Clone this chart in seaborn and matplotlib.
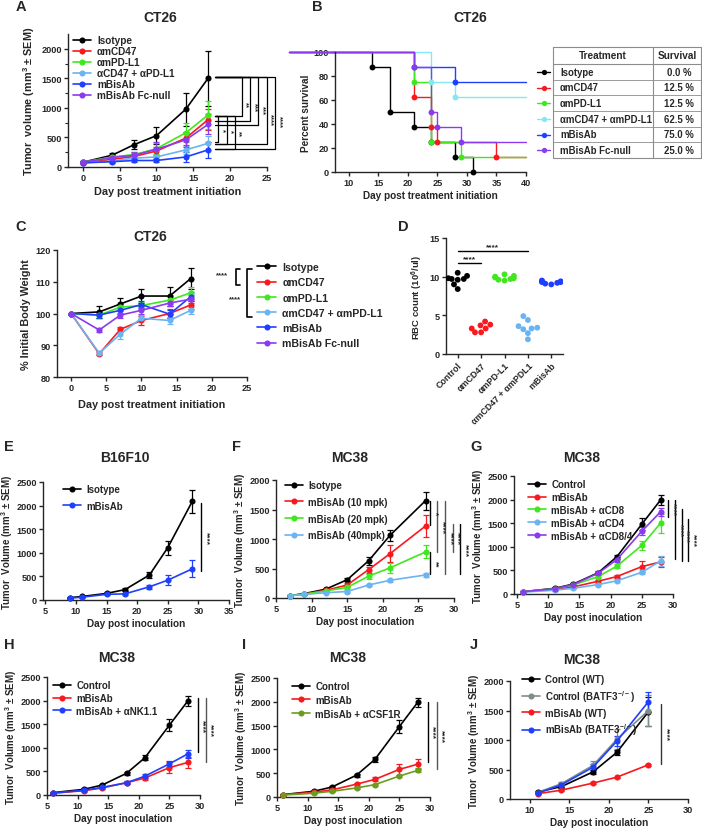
# CT26 / B16F10 / MC38 tumor growth figure (panels A-J)

import numpy as np
import pandas as pd
import matplotlib.pyplot as plt
import seaborn as sns
from matplotlib.lines import Line2D

sns.set_style('ticks')
plt.rcParams['font.family'] = ['Liberation Sans', 'DejaVu Sans']
plt.rcParams['font.weight'] = 'bold'
plt.rcParams['axes.labelweight'] = 'bold'
plt.rcParams['mathtext.default'] = 'regular'
plt.rcParams['legend.numpoints'] = 1

BLACK = '#000000'
RED = '#f7191e'
GREEN = '#3fe81c'
LBLUE = '#6ab4f2'
BLUE = '#1f3fff'
PURPLE = '#8a3bef'
CYAN = '#86e6f2'
GRAY = '#7f8c8c'
OLIVE = '#6b9c1f'

# ---- A: CT26 tumor volume ----
days_a = [0, 4, 7, 10, 14, 17]
a_names = ['Isotype', 'αmCD47', 'αmPD-L1', 'αCD47 + αPD-L1', 'mBisAb', 'mBisAb Fc-null']
a_iso = [80, 200, 380, 530, 980, 1500]
a_iso_err = [20, 30, 70, 140, 280, 460]
a_cd47 = [70, 130, 180, 270, 490, 800]
a_cd47_err = [15, 30, 50, 70, 110, 180]
a_pdl1 = [80, 170, 210, 310, 580, 880]
a_pdl1_err = [15, 30, 50, 90, 160, 240]
a_combo = [70, 100, 150, 170, 290, 400]
a_combo_err = [10, 20, 30, 40, 70, 120]
a_bis = [70, 90, 110, 110, 170, 290]
a_bis_err = [10, 20, 30, 30, 80, 140]
a_fcnull = [80, 160, 200, 300, 460, 720]
a_fcnull_err = [15, 30, 50, 130, 120, 170]

# ---- B: CT26 survival ----
b_names = ['Isotype', 'αmCD47', 'αmPD-L1', 'αmCD47 + αmPD-L1', 'mBisAb', 'mBisAb Fc-null']
b_surv_pct = [0.0, 12.5, 12.5, 62.5, 75.0, 25.0]
b_iso_t = [0, 14, 17, 21, 24, 28, 31]
b_iso_s = [100, 87.5, 50, 37.5, 25, 12.5, 0]
b_cd47_t = [0, 21, 24, 25, 35, 40]
b_cd47_s = [100, 62.5, 37.5, 25, 12.5, 12.5]
b_pdl1_t = [0, 21, 24, 29, 40]
b_pdl1_s = [100, 75, 25, 12.5, 12.5]
b_combo_t = [0, 24, 28, 40]
b_combo_s = [100, 75, 62.5, 62.5]
b_bis_t = [0, 21, 28, 40]
b_bis_s = [100, 87.5, 75, 75]
b_fcnull_t = [0, 21, 24, 25, 29, 40]
b_fcnull_s = [100, 87.5, 50, 37.5, 25, 25]

# ---- C: body weight ----
c_names = ['Isotype', 'αmCD47', 'αmPD-L1', 'αmCD47 + αmPD-L1', 'mBisAb', 'mBisAb Fc-null']
c_iso = [100, 100.5, 103, 105.5, 105.5, 111]
c_iso_err = [0, 2, 2, 2.3, 3, 3.4]
c_cd47 = [100, 87.3, 95, 97.8, 100, 102.7]
c_cd47_err = [0, 0.5, 0.8, 1.5, 1.5, 1.2]
c_pdl1 = [100, 99.5, 102, 102.5, 104.2, 106.5]
c_pdl1_err = [0, 0.8, 1, 1.2, 1.2, 1.8]
c_combo = [100, 87.5, 93.5, 98.5, 97.8, 101]
c_combo_err = [0, 0.6, 1.5, 1, 1, 1]
c_bis = [100, 99.5, 101, 102.8, 99.8, 105.3]
c_bis_err = [0, 1, 1, 1.2, 1.2, 1.5]
c_fcnull = [100, 94.8, 99.5, 101, 103.3, 104.5]
c_fcnull_err = [0, 0.6, 0.8, 1, 1, 1.2]

# ---- D: RBC count ----
d_groups = ['Control', 'αmCD47', 'αmPD-L1', 'αmCD47 + αmPDL1', 'mBisAb']
d_control = [10.5, 10.1, 9.8, 9.7, 9.7, 9.6, 9.0, 8.4]
d_cd47 = [4.2, 3.8, 3.7, 3.3, 3.3, 2.8, 2.8]
d_pdl1 = [10.3, 10.1, 10.0, 9.9, 9.8, 9.7, 9.6, 9.5]
d_combo = [4.9, 4.4, 3.6, 3.4, 3.3, 3.2, 2.7, 1.9]
d_bis = [9.5, 9.4, 9.3, 9.3, 9.2, 9.1, 9.0, 9.4]

# ---- E: B16F10 ----
days_e = [9, 11, 15, 18, 22, 25, 29]
e_iso = [50, 75, 140, 220, 530, 1110, 2090]
e_iso_err = [10, 15, 20, 30, 70, 150, 250]
e_bis = [40, 60, 120, 130, 280, 420, 660]
e_bis_err = [10, 10, 20, 20, 40, 100, 180]

# ---- F: MC38 dose ----
days_f = [7, 9, 12, 15, 18, 21, 26]
f_iso = [40, 75, 150, 310, 630, 1060, 1650]
f_iso_err = [10, 15, 20, 30, 70, 100, 150]
f_10 = [40, 70, 130, 220, 480, 750, 1220]
f_10_err = [10, 10, 20, 30, 50, 140, 190]
f_20 = [40, 65, 120, 180, 370, 510, 780]
f_20_err = [10, 10, 20, 20, 40, 80, 110]
f_40 = [40, 60, 90, 110, 220, 300, 390]
f_40_err = [10, 10, 10, 20, 20, 30, 40]

# ---- G/H/I: MC38 depletion ----
days_g = [6, 11, 14, 18, 21, 25, 28]
g_ctrl = [50, 120, 210, 450, 790, 1480, 1990]
g_ctrl_err = [10, 20, 20, 30, 40, 130, 100]
g_bis = [50, 100, 150, 270, 370, 580, 680]
g_bis_err = [10, 20, 20, 30, 40, 120, 110]
g_cd8 = [50, 110, 190, 370, 590, 1030, 1500]
g_cd8_err = [10, 20, 20, 30, 40, 90, 200]
g_cd4 = [40, 80, 120, 200, 280, 460, 700]
g_cd4_err = [10, 10, 20, 20, 30, 40, 100]
g_cd84 = [50, 110, 200, 440, 730, 1330, 1740]
g_cd84_err = [10, 20, 20, 30, 50, 80, 80]

h_ctrl = [50, 120, 210, 460, 790, 1480, 1990]
h_ctrl_err = [10, 20, 20, 30, 50, 130, 100]
h_bis = [40, 90, 150, 260, 360, 580, 690]
h_bis_err = [10, 20, 20, 30, 40, 110, 110]
h_nk = [40, 100, 160, 260, 400, 660, 870]
h_nk_err = [10, 20, 20, 30, 40, 60, 80]

i_ctrl = [50, 120, 210, 460, 790, 1480, 1990]
i_ctrl_err = [10, 20, 20, 30, 50, 130, 100]
i_bis = [50, 100, 150, 270, 370, 580, 690]
i_bis_err = [10, 20, 20, 30, 40, 120, 110]
i_csf = [40, 80, 120, 190, 260, 440, 560]
i_csf_err = [10, 10, 10, 20, 20, 30, 40]

# ---- J: BATF3 ----
days_j = [11, 14, 18, 21, 25]
j_ctrl_wt = [120, 210, 460, 790, 1480]
j_ctrl_wt_err = [20, 20, 30, 40, 250]
j_ctrl_ko = [110, 260, 570, 1010, 1500]
j_ctrl_ko_err = [20, 30, 80, 170, 270]
j_bis_wt = [90, 150, 270, 370, 580]
j_bis_wt_err = [10, 10, 10, 10, 20]
j_bis_ko = [100, 240, 540, 980, 1650]
j_bis_ko_err = [20, 30, 50, 80, 170]

W, H = 702, 829
fig = plt.figure(figsize=(W / 100, H / 100), dpi=100)


def px_axes(l, t, r, b):
    return fig.add_axes([l / W, 1 - b / H, (r - l) / W, (b - t) / H])


def style(ax, fs=6.6):
    for s in ['top', 'right']:
        ax.spines[s].set_visible(False)
    for s in ['left', 'bottom']:
        ax.spines[s].set_linewidth(1.0)
    ax.tick_params(length=3, width=1, labelsize=fs, pad=1.5)


def curve(ax, x, y, err, color, label, ms=4.4):
    ax.errorbar(x, y, yerr=err, fmt='none', ecolor=color, elinewidth=0.9,
                capsize=2, capthick=0.9, zorder=2, clip_on=False)
    sns.lineplot(x=x, y=y, color=color, marker='o', markersize=ms,
                 markeredgewidth=0, linewidth=1.2, label=label, ax=ax,
                 zorder=3, clip_on=False, errorbar=None)


def fig_legend(ax, x, y, fs, spacing, hl=1.8):
    leg = ax.legend(loc='upper left', bbox_to_anchor=(x / W, 1 - y / H),
                    bbox_transform=fig.transFigure, frameon=False, fontsize=fs,
                    labelspacing=spacing, handlelength=hl, handletextpad=0.6,
                    borderpad=0, borderaxespad=0)
    return leg


def tumor_labels(ax, xlab='Day post inoculation'):
    ax.set_xlabel(xlab, fontsize=7.2, labelpad=2)
    ax.set_ylabel('Tumor  Volume (mm$^3$ ± SEM)', fontsize=7, labelpad=1)


# ---------- A ----------
ax = px_axes(68, 35, 267, 168)
for vals, err, col, name in zip([a_iso, a_cd47, a_pdl1, a_combo, a_bis, a_fcnull],
                                [a_iso_err, a_cd47_err, a_pdl1_err, a_combo_err, a_bis_err, a_fcnull_err],
                                [BLACK, RED, GREEN, LBLUE, BLUE, PURPLE], a_names):
    curve(ax, days_a, vals, err, col, name)
ax.set_xlim(-2, 25)
ax.set_ylim(0, 2250)
ax.set_xticks(range(0, 26, 5))
ax.set_yticks(range(0, 2001, 500))
ax.set_yticks(range(250, 2250, 500), minor=True)
ax.tick_params(which='minor', length=2, width=0.8)
style(ax)
ax.set_xlabel('Day post treatment initiation', fontsize=7.8, labelpad=3)
ax.set_ylabel('Tumor  volume (mm$^3$ ± SEM)', fontsize=7.8, labelpad=3)
fig_legend(ax, 73, 36, 7.2, 0.1)

# ---------- B ----------
ax = px_axes(335, 53, 526, 173)
b_curves = [(b_iso_t, b_iso_s, BLACK), (b_cd47_t, b_cd47_s, RED),
            (b_pdl1_t, b_pdl1_s, GREEN), (b_combo_t, b_combo_s, CYAN),
            (b_bis_t, b_bis_s, BLUE), (b_fcnull_t, b_fcnull_s, PURPLE)]
for t, s, col in b_curves:
    sns.lineplot(x=t, y=s, color=col, drawstyle='steps-post', linewidth=1.0,
                 ax=ax, errorbar=None, clip_on=False)
for t, s, col in b_curves:
    ev_t = [tt for tt in t[1:] if tt < 40]
    ev_s = [ss for tt, ss in zip(t[1:], s[1:]) if tt < 40]
    sns.scatterplot(x=ev_t, y=ev_s, color=col, s=18, linewidth=0, ax=ax,
                    zorder=4, clip_on=False)
ax.set_xlim(7.7, 40)
ax.set_ylim(0, 100)
ax.set_xticks(range(10, 41, 5))
ax.set_yticks(range(0, 101, 20))
style(ax)
ax.set_xlabel('Day post treatment initiation', fontsize=7.2, labelpad=2)
ax.set_ylabel('Percent survival', fontsize=7.2, labelpad=2)

# survival table
tb = px_axes(530, 48, 702, 160)
tb.set_xlim(530, 702)
tb.set_ylim(160, 48)
tb.axis('off')
row_h = (159 - 65) / 6
tcol = '#8c8c8c'
tb.plot([553, 701, 701, 553, 553], [48, 48, 159, 159, 48], color=tcol, lw=0.8, clip_on=False)
tb.plot([653, 653], [48, 159], color=tcol, lw=0.8)
tb.plot([553, 701], [65, 65], color=tcol, lw=0.8)
tb.text(603, 56.5, 'Treatment', ha='center', va='center', fontsize=7.2)
tb.text(677, 56.5, 'Survival', ha='center', va='center', fontsize=7.2)
for i, (name, pct, (_, _, col)) in enumerate(zip(b_names, b_surv_pct, b_curves)):
    yc = 65 + row_h * (i + 0.5)
    if i > 0:
        tb.plot([553, 701], [65 + row_h * i] * 2, color=tcol, lw=0.6)
    tb.text(560, yc, name, ha='left', va='center', fontsize=6.9)
    tb.text(679, yc, f'{pct:.1f} %', ha='center', va='center', fontsize=6.9)
    tb.add_line(Line2D([537, 550], [yc, yc], color=col, lw=1.0, clip_on=False))
    tb.add_line(Line2D([543.5], [yc], color=col, marker='o', markersize=3.8,
                       markeredgewidth=0, clip_on=False))

# ---------- C ----------
ax = px_axes(57, 251, 247, 378)
for vals, err, col, name in zip([c_iso, c_cd47, c_pdl1, c_combo, c_bis, c_fcnull],
                                [c_iso_err, c_cd47_err, c_pdl1_err, c_combo_err, c_bis_err, c_fcnull_err],
                                [BLACK, RED, GREEN, LBLUE, BLUE, PURPLE], c_names):
    curve(ax, days_a, vals, err, col, name)
ax.set_xlim(-2, 25)
ax.set_ylim(80, 120)
ax.set_xticks(range(0, 26, 5))
ax.set_yticks(range(80, 121, 10))
style(ax)
ax.set_xlabel('Day post treatment initiation', fontsize=7.8, labelpad=5)
ax.set_ylabel('% Initial Body Weight', fontsize=7.8, labelpad=3)
fig_legend(ax, 257, 263, 7.6, 0.5)

# ---------- D ----------
ax = px_axes(446, 239, 563, 355)
d_df = pd.DataFrame({
    'group': sum([[g] * len(v) for g, v in zip(d_groups, [d_control, d_cd47, d_pdl1, d_combo, d_bis])], []),
    'rbc': d_control + d_cd47 + d_pdl1 + d_combo + d_bis,
})
sns.swarmplot(data=d_df, x='group', y='rbc', hue='group',
              palette=[BLACK, RED, GREEN, LBLUE, BLUE], size=4.2, ax=ax, legend=False)
ax.set_xlim(-0.5, 4.5)
ax.set_ylim(0, 15)
ax.set_yticks([0, 5, 10, 15])
style(ax)
ax.set_xlabel('')
ax.set_ylabel('RBC count (10$^6$/ul)', fontsize=6.8, labelpad=3)
ax.set_xticks(range(5))
ax.set_xticklabels(d_groups, rotation=45, ha='right', rotation_mode='anchor', fontsize=6.4)
ax.plot([0, 1], [11.8, 11.8], color='k', lw=1, clip_on=False)
ax.plot([0, 3], [13.3, 13.3], color='k', lw=1, clip_on=False)
ax.text(0.5, 11.9, '****', ha='center', va='bottom', fontsize=6)
ax.text(1.5, 13.4, '****', ha='center', va='bottom', fontsize=6)

# ---------- E ----------
ax = px_axes(43, 483, 229, 601)
curve(ax, days_e, e_iso, e_iso_err, BLACK, 'Isotype')
curve(ax, days_e, e_bis, e_bis_err, BLUE, 'mBisAb')
ax.set_xlim(4.6, 35)
ax.set_ylim(0, 2500)
ax.set_xticks(range(5, 36, 5))
ax.set_yticks(range(0, 2501, 500))
style(ax)
tumor_labels(ax)
fig_legend(ax, 63, 485, 7, 0.7)

# ---------- F ----------
ax = px_axes(276, 481, 454, 599)
for vals, err, col, name in zip([f_iso, f_10, f_20, f_40],
                                [f_iso_err, f_10_err, f_20_err, f_40_err],
                                [BLACK, RED, GREEN, LBLUE],
                                ['Isotype', 'mBisAb (10 mpk)', 'mBisAb (20 mpk)', 'mBisAb (40mpk)']):
    curve(ax, days_f, vals, err, col, name)
ax.set_xlim(5, 30)
ax.set_ylim(0, 2000)
ax.set_xticks(range(5, 31, 5))
ax.set_yticks(range(0, 2001, 500))
style(ax)
tumor_labels(ax)
fig_legend(ax, 285, 481, 7, 0.7)

# ---------- G ----------
ax = px_axes(514, 477, 673, 595)
for vals, err, col, name in zip([g_ctrl, g_bis, g_cd8, g_cd4, g_cd84],
                                [g_ctrl_err, g_bis_err, g_cd8_err, g_cd4_err, g_cd84_err],
                                [BLACK, RED, GREEN, LBLUE, PURPLE],
                                ['Control', 'mBisAb', 'mBisAb + αCD8', 'mBisAb + αCD4', 'mBisAb + αCD8/4']):
    curve(ax, days_g, vals, err, col, name)
ax.set_xlim(4.5, 30)
ax.set_ylim(0, 2500)
ax.set_xticks(range(5, 31, 5))
ax.set_yticks(range(0, 2501, 500))
style(ax)
tumor_labels(ax)
fig_legend(ax, 528, 480, 7, 0.3)

# ---------- H ----------
ax = px_axes(47, 678, 200, 796)
for vals, err, col, name in zip([h_ctrl, h_bis, h_nk], [h_ctrl_err, h_bis_err, h_nk_err],
                                [BLACK, RED, BLUE], ['Control', 'mBisAb', 'mBisAb + αNK1.1']):
    curve(ax, days_g, vals, err, col, name)
ax.set_xlim(5, 30)
ax.set_ylim(0, 2500)
ax.set_xticks(range(5, 31, 5))
ax.set_yticks(range(0, 2501, 500))
style(ax)
tumor_labels(ax)
fig_legend(ax, 53, 681, 7, 0.3)

# ---------- I ----------
ax = px_axes(277, 679, 430, 798)
for vals, err, col, name in zip([i_ctrl, i_bis, i_csf], [i_ctrl_err, i_bis_err, i_csf_err],
                                [BLACK, RED, OLIVE], ['Control', 'mBisAb', 'mBisAb + αCSF1R']):
    curve(ax, days_g, vals, err, col, name)
ax.set_xlim(5, 30)
ax.set_ylim(0, 2500)
ax.set_xticks(range(5, 31, 5))
ax.set_yticks(range(0, 2501, 500))
style(ax)
tumor_labels(ax)
fig_legend(ax, 292, 682, 7, 0.4)

# ---------- J ----------
ax = px_axes(510, 682, 688, 800)
for vals, err, col, name in zip([j_ctrl_wt, j_ctrl_ko, j_bis_wt, j_bis_ko],
                                [j_ctrl_wt_err, j_ctrl_ko_err, j_bis_wt_err, j_bis_ko_err],
                                [BLACK, GRAY, RED, BLUE],
                                ['Control (WT)', 'Control (BATF3$^{-/-}$)', 'mBisAb (WT)', 'mBisAb (BATF3$^{-/-}$)']):
    curve(ax, days_j, vals, err, col, name)
ax.set_xlim(7.5, 30)
ax.set_ylim(0, 2000)
ax.set_xticks(range(10, 31, 5))
ax.set_yticks(range(0, 2001, 500))
style(ax)
tumor_labels(ax)
fig_legend(ax, 522, 675, 7, 0.4)

# ---------- overlay: panel letters, titles, significance marks ----------
ov = fig.add_axes([0, 0, 1, 1], zorder=10)
ov.set_xlim(0, W)
ov.set_ylim(H, 0)
ov.axis('off')
ov.patch.set_alpha(0)

letters = {'A': (16, 7), 'B': (312, 7), 'C': (15, 227), 'D': (398, 227), 'E': (4, 447),
           'F': (232, 447), 'G': (470, 447), 'H': (4, 645), 'I': (242, 645), 'J': (470, 645)}
for k, (x, y) in letters.items():
    ov.text(x, y, k, fontsize=10.5, ha='left', va='center')

titles = [('CT26', 160, 18), ('CT26', 470, 18), ('CT26', 150, 237), ('B16F10', 125, 458),
          ('MC38', 350, 458), ('MC38', 582, 458), ('MC38', 117, 658), ('MC38', 348, 658),
          ('MC38', 582, 660)]
for txt, x, y in titles:
    ov.text(x, y, txt, fontsize=10, ha='center', va='center')


def sig(x, y1, y2, label, color='k', dx=5, fs=6):
    ov.plot([x, x], [y1, y2], color=color, lw=1)
    ov.text(x + dx, (y1 + y2) / 2, label, rotation=270, ha='center', va='center', fontsize=fs)


# A brackets
for xv, yb, lab in zip([241.7, 250, 258.3, 266.7, 275], [116.7, 121.7, 126, 145, 150],
                       ['**', '***', '***', '****', '****']):
    ov.plot([215, xv, xv, 215], [78, 78, yb, yb], color='k', lw=0.9)
    ov.text(xv + 4, (78 + yb) / 2 + 8, lab, rotation=270, ha='center', va='center', fontsize=5.6)
for xv, yb, lab in zip([218.3, 226.7, 235], [143.3, 145, 150], ['*', '*', '**']):
    ov.plot([215, xv, xv, 215], [117, 117, yb, yb], color='k', lw=0.9)
    ov.text(xv + 3.5, (117 + yb) / 2, lab, rotation=270, ha='center', va='center', fontsize=5.6)

# C brackets
ov.plot([240, 236, 236, 240], [270, 270, 286, 286], color='k', lw=1.2)
ov.text(222, 276, '****', ha='center', va='center', fontsize=5.6)
ov.plot([252, 247, 247, 252], [270, 270, 318, 318], color='k', lw=1.2)
ov.text(235, 300, '****', ha='center', va='center', fontsize=5.6)

# E
sig(201, 504, 572, '****')

# F
sig(430, 502, 526, '*')
sig(437.3, 502, 553, '****', color='#555555')
sig(445, 502, 575, '****', color='#555555')
sig(452.7, 525, 553, '****', color='#555555')
sig(460, 525, 575, '****')
sig(430, 553, 575, '**')

# G
sig(668.3, 501, 518, '****')
sig(675, 501, 560, '****')
sig(681.7, 510, 562, '****')
sig(688.3, 520, 562, '****')

# H
sig(197.7, 699, 753, '****')
sig(205.7, 699, 763, '****', color='#555555')

# I
sig(427.7, 703, 763, '****')
sig(436.7, 703, 770, '****', color='#555555')

# J
sig(661, 705, 765, '****', color='#333333')

plt.savefig('out.png', dpi=100)
plt.close()
